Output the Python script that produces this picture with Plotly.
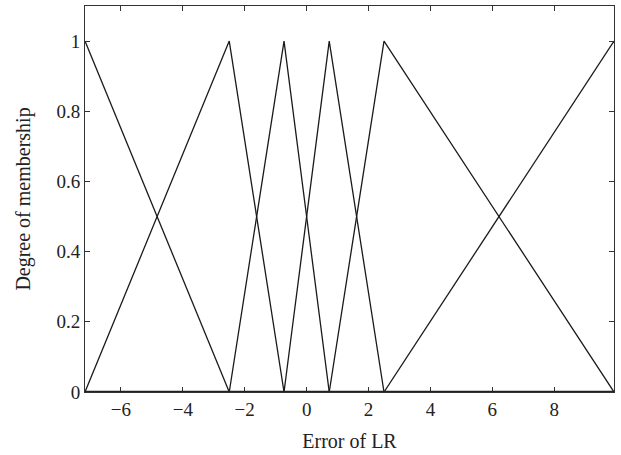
import plotly.graph_objects as go

# Membership function breakpoints (Error of LR)
mf_x = [
    [-7.16, -2.5],
    [-7.16, -2.5, -0.73],
    [-2.5, -0.73, 0.73],
    [-0.73, 0.73, 2.5],
    [0.73, 2.5, 9.93],
    [2.5, 9.93],
]
mf_y = [
    [1, 0],
    [0, 1, 0],
    [0, 1, 0],
    [0, 1, 0],
    [0, 1, 0],
    [0, 1],
]

x_ticks = [-6, -4, -2, 0, 2, 4, 6, 8]
y_ticks = [0, 0.2, 0.4, 0.6, 0.8, 1]
y_tick_text = ["0", "0.2", "0.4", "0.6", "0.8", "1"]

fig = go.Figure()
for xs, ys in zip(mf_x, mf_y):
    fig.add_scatter(x=xs, y=ys, mode="lines",
                    line=dict(color="#1a1a1a", width=1.3),
                    showlegend=False, hoverinfo="skip")

axis_common = dict(
    showgrid=False, zeroline=False, showline=True, linecolor="#333333",
    linewidth=1, mirror="ticks", ticks="inside", ticklen=5,
    tickcolor="#333333", tickfont=dict(family="Liberation Serif", size=19, color="#222"),
)

fig.update_layout(
    width=621, height=455,
    margin=dict(l=85, r=7, t=6, b=63),
    plot_bgcolor="white", paper_bgcolor="white",
    font=dict(family="Liberation Serif", color="#222"),
    xaxis=dict(range=[-7.16, 9.93], tickvals=x_ticks,
               title=dict(text="Error of LR", font=dict(size=20), standoff=15),
               **axis_common),
    yaxis=dict(range=[0, 1.1], tickvals=y_ticks, ticktext=y_tick_text,
               title=dict(text="Degree of membership", font=dict(size=20), standoff=20),
               **axis_common),
)
fig.add_shape(type="line", xref="x", yref="y", x0=-7.16, x1=9.93, y0=0, y1=0,
              line=dict(color="#222", width=2.5))

fig.write_html("out.html", config={"displayModeBar": False},
               post_script="document.body.style.margin='0';")
